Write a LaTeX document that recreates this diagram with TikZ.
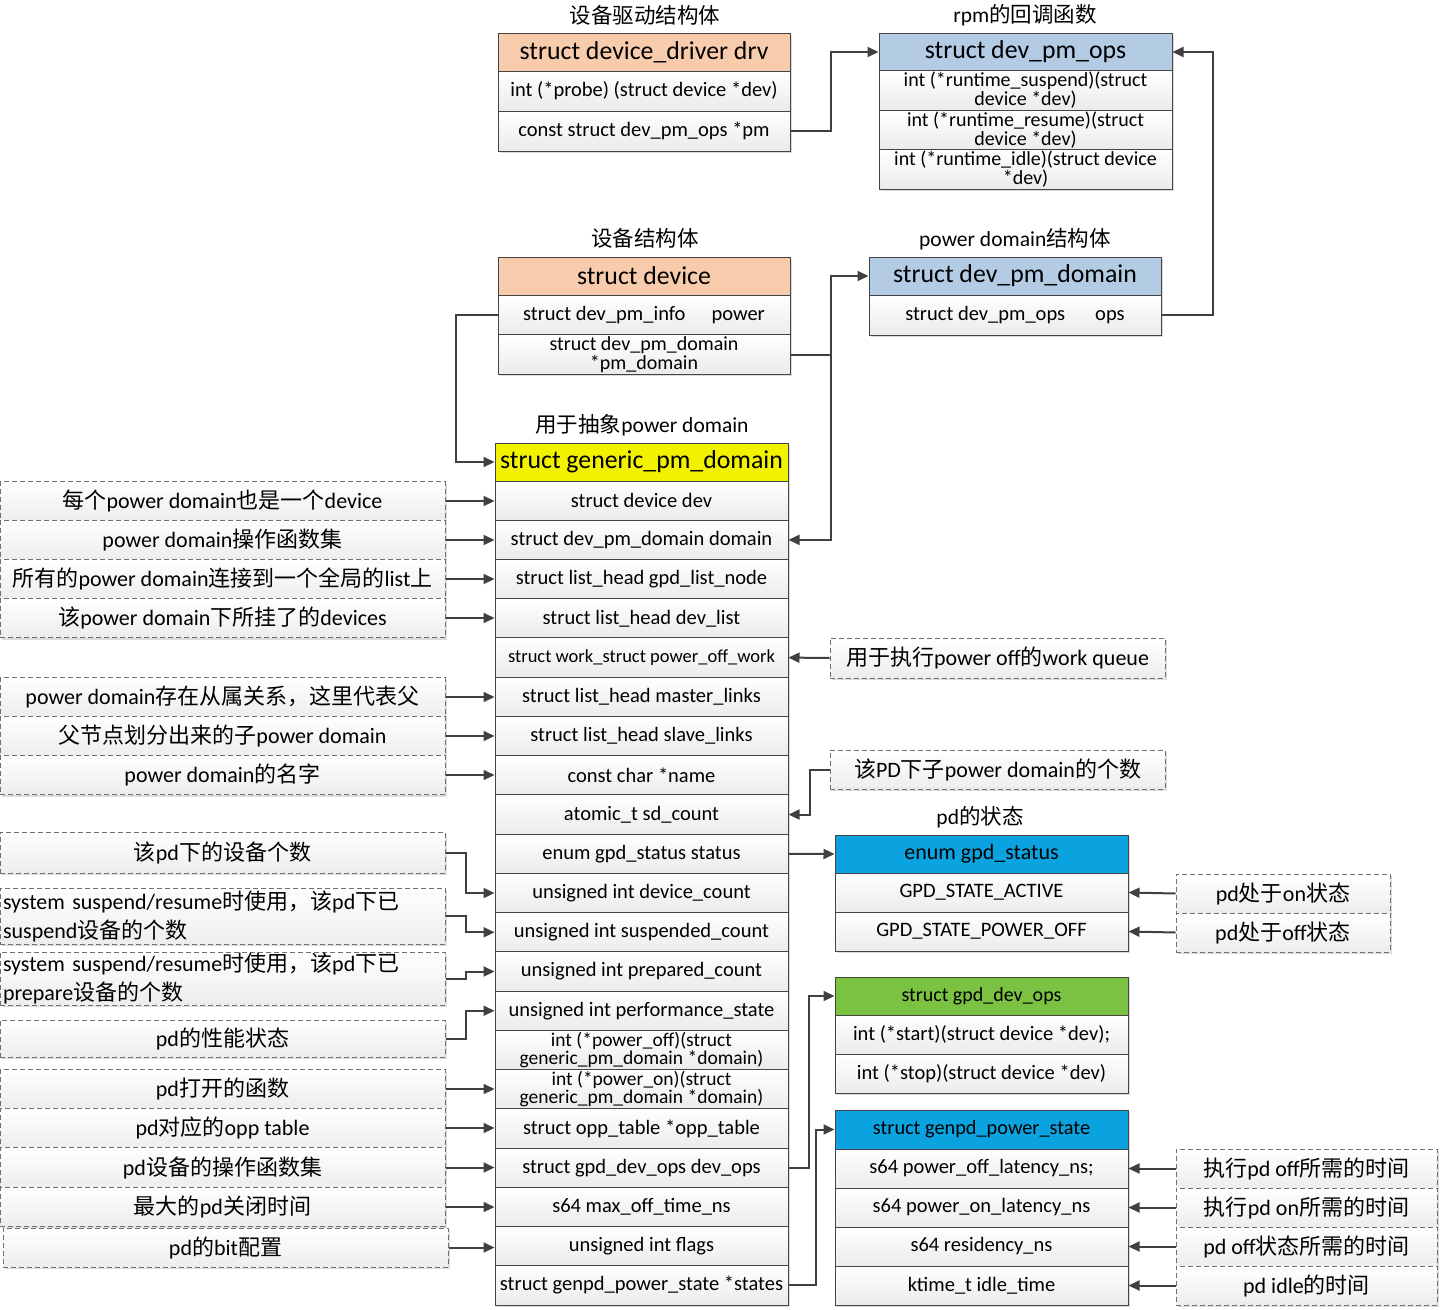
\documentclass[tikz,border=0pt]{standalone}
\usepackage{fontspec}
\setmainfont{Carlito}
\newfontfamily\cjk{Noto Sans CJK SC}
\usetikzlibrary{arrows.meta,shadows}
\newcommand\zh[1]{{\cjk #1}}
\newcommand\fsz[2]{\fontsize{#1}{#2}\selectfont}
\definecolor{bordc}{HTML}{454545}
\definecolor{rowg}{HTML}{EBEBEB}
\definecolor{noteg}{HTML}{EDEDED}
\definecolor{dashc}{HTML}{707070}
\definecolor{arrc}{HTML}{404040}
\definecolor{peach}{HTML}{F8CBAD}
\definecolor{greyblue}{HTML}{B4CBE4}
\definecolor{yel}{HTML}{F2F200}
\definecolor{skyb}{HTML}{0AA3E0}
\definecolor{grn}{HTML}{7CC242}
\tikzset{
  shad/.style={drop shadow={shadow xshift=2pt,shadow yshift=-2pt,fill=black!40,opacity=.35}},
  fld/.style={draw=bordc, line width=1pt, top color=white, bottom color=rowg, inner sep=0pt, align=center, font=\fsz{20.5}{23}, shad},
  hdr/.style={draw=bordc, line width=1pt, inner sep=0pt, align=center, font=\fsz{25.8}{30}, shad},
  note/.style={draw=dashc, line width=1pt, dash pattern=on 5pt off 3pt, top color=white, bottom color=noteg, inner sep=0pt, align=center, font=\fsz{22}{29}, shad},
  arr/.style={-{Triangle[length=11pt,width=10pt]}, line width=2pt, draw=arrc},
  ttl/.style={inner sep=0pt, font=\fsz{21.5}{25}},
  tight/.style={font=\fsz{19.5}{17.5}}
}
\begin{document}
\begin{tikzpicture}[x=1pt,y=-1pt]
\useasboundingbox (0,0) rectangle (1440,1309);

% ---------- struct device_driver ----------
\node[ttl] (tdrv) at (645,15) {\zh{设备驱动结构体}};
\node[hdr, fill=peach, minimum width=292pt, minimum height=38pt] (drv0) at (644,52) {struct device\_driver drv};
\node[fld, minimum width=292pt, minimum height=40pt] (drv1) at (644,91) {int (*probe) (struct device *dev)};
\node[fld, minimum width=292pt, minimum height=40pt] (drv2) at (644,131) {const struct dev\_pm\_ops *pm};

% ---------- struct dev_pm_ops ----------
\node[ttl] (tops) at (1025,15) {rpm\zh{的回调函数}};
\node[hdr, fill=greyblue, minimum width=293pt, minimum height=38pt] (ops0) at (1025.5,52) {struct dev\_pm\_ops};
\node[fld, minimum width=293pt, minimum height=39.5pt, font=\fsz{20}{19}] (ops1) at (1025.5,90.5) {int (*runtime\_suspend)(struct\\device *dev)};
\node[fld, minimum width=293pt, minimum height=39.5pt, font=\fsz{20}{19}] (ops2) at (1025.5,130) {int (*runtime\_resume)(struct\\device *dev)};
\node[fld, minimum width=293pt, minimum height=39.5pt, font=\fsz{20}{19}] (ops3) at (1025.5,169.5) {int (*runtime\_idle)(struct device\\*dev)};

% ---------- struct device ----------
\node[ttl] (tdev) at (645,238) {\zh{设备结构体}};
\node[hdr, fill=peach, minimum width=292pt, minimum height=38pt] (dev0) at (644,276) {struct device};
\node[fld, minimum width=292pt, minimum height=40pt] (dev1) at (644,315) {struct dev\_pm\_info\hspace{26pt}power};
\node[fld, minimum width=292pt, minimum height=39.5pt, font=\fsz{20}{19.5}] (dev2) at (644,354.5) {struct dev\_pm\_domain\\*pm\_domain};

% ---------- struct dev_pm_domain ----------
\node[ttl] (tpmd) at (1015,239) {power domain\zh{结构体}};
\node[hdr, fill=greyblue, minimum width=292pt, minimum height=38pt] (pmd0) at (1015,276) {struct dev\_pm\_domain};
\node[fld, minimum width=292pt, minimum height=40pt] (pmd1) at (1015,315) {struct dev\_pm\_ops\hspace{30pt}ops};

% ---------- struct generic_pm_domain ----------
\node[ttl] (tgen) at (642,425) {\zh{用于抽象}power domain};
\node[hdr, fill=yel, minimum width=293pt, minimum height=38pt] (g0) at (641.5,462) {struct generic\_pm\_domain};
\newcommand\grow[3][]{\node[fld, minimum width=293pt, minimum height=39.24pt, #1] (g#2) at (641.5,{481+39.24*(#2-0.5)}) {#3};}
\grow{1}{struct device dev}
\grow{2}{struct dev\_pm\_domain domain}
\grow{3}{struct list\_head gpd\_list\_node}
\grow{4}{struct list\_head dev\_list}
\grow[font=\fsz{18.5}{21}]{5}{struct work\_struct power\_off\_work}
\grow{6}{struct list\_head master\_links}
\grow{7}{struct list\_head slave\_links}
\grow{8}{const char *name}
\grow{9}{atomic\_t sd\_count}
\grow{10}{enum gpd\_status status}
\grow{11}{unsigned int device\_count}
\grow{12}{unsigned int suspended\_count}
\grow{13}{unsigned int prepared\_count}
\grow{14}{unsigned int performance\_state}
\grow[tight]{15}{int (*power\_off)(struct\\generic\_pm\_domain *domain)}
\grow[tight]{16}{int (*power\_on)(struct\\generic\_pm\_domain *domain)}
\grow{17}{struct opp\_table *opp\_table}
\grow{18}{struct gpd\_dev\_ops dev\_ops}
\grow{19}{s64 max\_off\_time\_ns}
\grow{20}{unsigned int flags}
\grow{21}{struct genpd\_power\_state *states}

% ---------- left notes ----------
\node[note, minimum width=445pt, minimum height=39pt] (n1) at (222.5,501) {\zh{每个}power domain\zh{也是一个}device};
\node[note, minimum width=445pt, minimum height=39pt] (n2) at (222.5,540) {power domain\zh{操作函数集}};
\node[note, minimum width=445pt, minimum height=39pt] (n3) at (222.5,579) {\zh{所有的}power domain\zh{连接到一个全局的}list\zh{上}};
\node[note, minimum width=445pt, minimum height=39pt] (n4) at (222.5,618) {\zh{该}power domain\zh{下所挂了的}devices};
\node[note, minimum width=445pt, minimum height=39pt] (n5) at (222.5,697) {power domain\zh{存在从属关系，这里代表父}};
\node[note, minimum width=445pt, minimum height=39pt] (n6) at (222.5,736) {\zh{父节点划分出来的子}power domain};
\node[note, minimum width=445pt, minimum height=39pt] (n7) at (222.5,775) {power domain\zh{的名字}};
\node[note, minimum width=445pt, minimum height=41pt] (n8) at (222.5,852.5) {\zh{该}pd\zh{下的设备个数}};
\node[note, minimum width=445pt, minimum height=56pt, text width=439pt, align=left] (n9) at (222.5,916) {system suspend/resume\zh{时使用，该}pd\zh{下已}\\suspend\zh{设备的个数}};
\node[note, minimum width=445pt, minimum height=53pt, text width=439pt, align=left] (n10) at (222.5,978.5) {system suspend/resume\zh{时使用，该}pd\zh{下已}\\prepare\zh{设备的个数}};
\node[note, minimum width=445pt, minimum height=37pt] (n11) at (222.5,1038.5) {pd\zh{的性能状态}};
\node[note, minimum width=445pt, minimum height=38.5pt] (n12) at (222.5,1089) {pd\zh{打开的函数}};
\node[note, minimum width=445pt, minimum height=39.5pt] (n13) at (222.5,1128) {pd\zh{对应的}opp table};
\node[note, minimum width=445pt, minimum height=39.5pt] (n14) at (222.5,1167.5) {pd\zh{设备的操作函数集}};
\node[note, minimum width=445pt, minimum height=39.5pt] (n15) at (222.5,1207) {\zh{最大的}pd\zh{关闭时间}};
\node[note, minimum width=445pt, minimum height=39pt] (n16) at (225.5,1247.5) {pd\zh{的}bit\zh{配置}};

% ---------- right notes ----------
\node[note, minimum width=335pt, minimum height=40pt] (wq) at (997.5,658) {\zh{用于执行}power off\zh{的}work queue};
\node[note, minimum width=335pt, minimum height=39pt] (sdn) at (997.5,769.5) {\zh{该}PD\zh{下子}power domain\zh{的个数}};

% ---------- enum gpd_status ----------
\node[ttl] (tst) at (980,817) {pd\zh{的状态}};
\node[hdr, fill=skyb, minimum width=293pt, minimum height=38pt, font=\fsz{22}{24}] (en0) at (981.5,854) {enum gpd\_status};
\node[fld, minimum width=293pt, minimum height=39pt] (en1) at (981.5,892.5) {GPD\_STATE\_ACTIVE};
\node[fld, minimum width=293pt, minimum height=39pt] (en2) at (981.5,931.5) {GPD\_STATE\_POWER\_OFF};
\node[note, minimum width=214pt, minimum height=39pt] (son) at (1283,893.5) {pd\zh{处于}on\zh{状态}};
\node[note, minimum width=214pt, minimum height=39pt] (soff) at (1283,932.5) {pd\zh{处于}off\zh{状态}};

% ---------- struct gpd_dev_ops ----------
\node[hdr, fill=grn, minimum width=293pt, minimum height=38pt, font=\fsz{20}{23}] (gd0) at (981.5,996) {struct gpd\_dev\_ops};
\node[fld, minimum width=293pt, minimum height=39pt] (gd1) at (981.5,1034.5) {int (*start)(struct device *dev);};
\node[fld, minimum width=293pt, minimum height=39pt] (gd2) at (981.5,1073.5) {int (*stop)(struct device *dev)};

% ---------- struct genpd_power_state ----------
\node[hdr, fill=skyb, minimum width=293pt, minimum height=39pt, font=\fsz{20.3}{23}] (ps0) at (981.5,1129.5) {struct genpd\_power\_state};
\node[fld, minimum width=293pt, minimum height=39pt] (ps1) at (981.5,1168.5) {s64 power\_off\_latency\_ns;};
\node[fld, minimum width=293pt, minimum height=39pt] (ps2) at (981.5,1207.5) {s64 power\_on\_latency\_ns};
\node[fld, minimum width=293pt, minimum height=39pt] (ps3) at (981.5,1246.5) {s64 residency\_ns};
\node[fld, minimum width=293pt, minimum height=39pt] (ps4) at (981.5,1285.5) {ktime\_t idle\_time};
\node[note, minimum width=261pt, minimum height=39pt] (t1) at (1306.5,1168.5) {\zh{执行}pd off\zh{所需的时间}};
\node[note, minimum width=261pt, minimum height=39pt] (t2) at (1306.5,1207.5) {\zh{执行}pd on\zh{所需的时间}};
\node[note, minimum width=261pt, minimum height=39pt] (t3) at (1306.5,1246.5) {pd off\zh{状态所需的时间}};
\node[note, minimum width=261pt, minimum height=39pt] (t4) at (1306.5,1285.5) {pd idle\zh{的时间}};

% ---------- connectors ----------
\draw[arr] (drv2.east) -- ++(40,0) |- (ops0.west);
\draw[arr] (pmd1.east) -- ++(51,0) |- (ops0.east);
\draw[line width=2pt, draw=arrc] (dev2.east) -- ++(40,0) coordinate (j1);
\draw[arr] (j1) |- (pmd0.west);
\draw[arr] (j1) |- (g2.east);
\draw[arr] (dev1.west) -- ++(-42,0) |- (g0.west);

\foreach \a/\b in {n1/g1,n2/g2,n3/g3,n4/g4,n5/g6,n6/g7,n7/g8,n12/g16,n13/g17,n14/g18,n15/g19,n16/g20}
  \draw[arr] (\a.east) -- (\a.east -| \b.west);
\draw[arr] (n8.east) -- ++(20,0) |- (g11.west);
\draw[arr] (n9.east) -- ++(20,0) |- (g12.west);
\draw[arr] (n10.east) -- ++(20,0) |- (g13.west);
\draw[arr] (n11.east) -- ++(20,0) |- (g14.west);

\draw[arr] (wq.west) -- (g5.east);
\draw[arr] (sdn.west) -- ++(-20,0) |- (g9.east);
\draw[arr] (g10.east) -- (en0.west);
\draw[arr] (son.west) -- (en1.east);
\draw[arr] (soff.west) -- (en2.east);
\draw[arr] (g18.east) -- ++(20,0) |- (gd0.west);
\draw[arr] (g21.east) -- ++(27,0) |- (ps0.west);
\draw[arr] (t1.west) -- (ps1.east);
\draw[arr] (t2.west) -- (ps2.east);
\draw[arr] (t3.west) -- (ps3.east);
\draw[arr] (t4.west) -- (ps4.east);
\end{tikzpicture}
\end{document}
